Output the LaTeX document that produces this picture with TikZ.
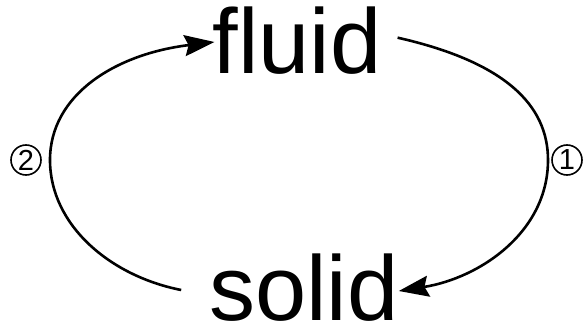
\documentclass[tikz,border=0pt]{standalone}
\usepackage{fontspec}
\setmainfont{Liberation Sans}
\usetikzlibrary{arrows.meta}
\begin{document}
\begin{tikzpicture}[x=1pt,y=-1pt,
  word/.style={inner sep=0pt, text depth=0pt, font=\fontsize{92}{92}\selectfont},
  num/.style={draw, circle, line width=1.6pt, minimum size=30pt, inner sep=0pt, font=\fontsize{29}{29}\selectfont},
  arc/.style={line width=2.6pt, -{Stealth[length=30pt,width=21pt,inset=4pt]}}]
\useasboundingbox (0,0) rectangle (587,332);
\node[word, anchor=base] (fluid) at (297,73) {fluid};
\node[word, anchor=base] (solid) at (304,320) {solid};
\node[num] (one) at (567,160) {1};
\node[num] (two) at (26,160) {2};
\coordinate (r) at (548,160);
\coordinate (l) at (50,160);
\draw[arc] ([xshift=16pt,yshift=2pt]fluid.east) .. controls (505,62) and (548,105) .. (r) .. controls (548,232) and (480,278) .. ([xshift=0pt]solid.east |- 0,291);
\draw[arc] ([xshift=-28pt]solid.west |- 0,290) .. controls (110,276) and (50,225) .. (l) .. controls (50,95) and (115,54) .. ([xshift=2pt]fluid.west |- 0,42);
\end{tikzpicture}
\end{document}
